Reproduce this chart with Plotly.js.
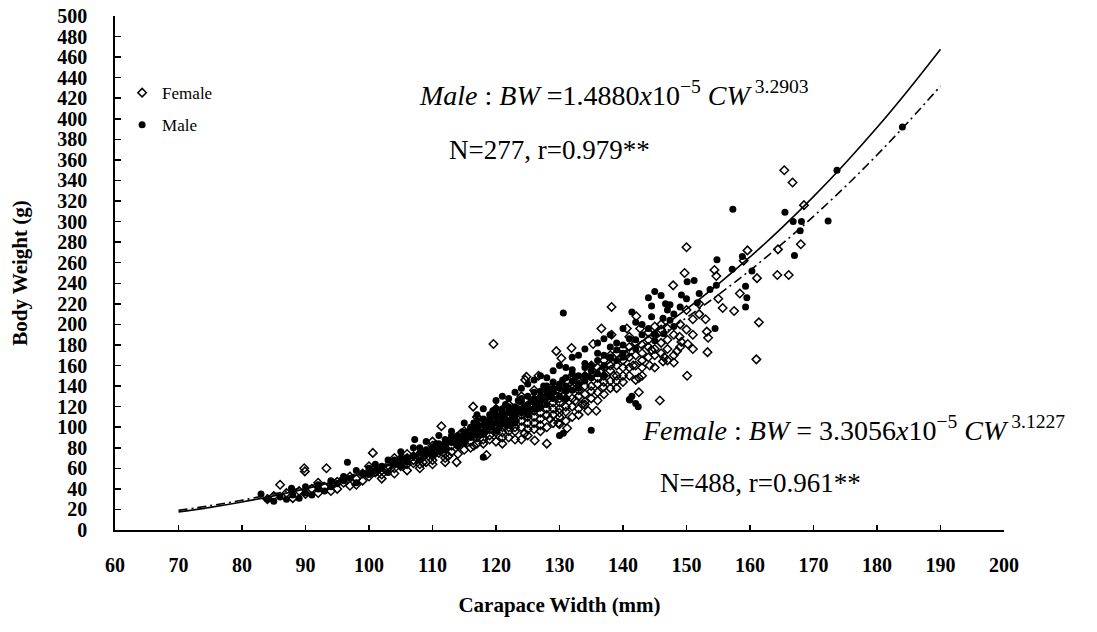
<!DOCTYPE html>
<html>
<head>
<meta charset="utf-8">
<script src="https://cdn.plot.ly/plotly-3.0.1.min.js"></script>
<style>html,body{margin:0;padding:0;background:#fff;}#chart{width:1097px;height:632px;}</style>
</head>
<body>
<div id="chart"></div>
<script>
// Female scatter (open diamonds)
const femaleCW = [84,85,86,87,88,89,89.8,89.9,90,91,92,93,93.3,94,95,96,97,98,99,100,100.6,101,102,102,103,104,105,105,106,107,107,108,108,109,110,110,111,111.4,112,112,113,113.8,114,114,115,115,116,116.4,117,117,118,118.5,118,119,119.6,120,120,120,121,121,122,122,123,123,124,124,124.8,124.6,125,125,126,126,126.1,126.7,127,127,128,128,128,129,129,129.5,129.8,130,130,130,130.3,131,131,131.2,131.9,132,132,133,133,133.6,134,134,135,135,135.3,135.8,136,136,136.6,136.9,137,137,138,138.2,138.2,138,139,139,140,140,140.6,141,141,141.6,142,142.1,142.5,142.7,143,143,144,144.2,145,145,145.8,146,146.3,147,147.9,148,148.5,148.9,149,149.2,149.7,150,150.1,150.2,151,152,153.2,153.3,153.4,154.4,154.7,155,155.7,157.5,158.4,159,159.6,161.1,161,161.4,164.3,164.4,165.4,166.1,166.7,168,168.5,
104,106,109,110,112,113,115,116,117,118,119,119,120,121,121,122,122,123,123,124,124,125,126,127,127,128,129,130,130,131,132,132,133,134,135,136,137,138,139,140,141,142,143,144,145,146,147,
95,97,99,101,103,104,106,107,108,109,110,111,112,113,114,115,116,117,118,119,120,121,122,123,124,125,126,127,128,129,130,131,132,133,134,135,136,137,138,139,140,141,142,143,144,145,146,147,148,149,150,151,152,
108.5,110.5,112.5,114.5,116.5,118.5,120.5,122.5,124.5,126.5,128.5,130.5,132.5,134.5,136.5,138.5,140.5,142.5,144.5,146.5,
92,94,96,98,100,102,104,106,108,110,112,114,116,117,118,120,121,122,123,124,125,126,127,128,129,130,131,132,133,134,135,136,137,138,139,140,141,142,143,144,145,146,147,148,150,151,153];
const femaleBW = [30,33,44,36,31,38,60,57,35,40,36,42,60,44,40,46,43,50,48,52,75,56,50,58,60,55,62,68,58,65,72,60,70,66,72,64,75,101,70,80,76,66,82,90,78,86,92,120,84,96,88,73,100,92,181,98,86,108,95,104,90,112,100,96,106,88,149,146,110,98,104,116,87,150,108,120,84,112,126,118,104,174,104,103,124,135,167,128,115,99,177,138,120,130,145,122,140,125,150,135,181,116,158,142,196,139,150,165,155,217,190,145,160,172,165,150,196,178,158,160,170,208,134,196,180,165,185,160,176,190,126,195,164,185,238,163,174,188,200,183,250,275,150,181,205,210,193,173,187,253,247,225,216,213,230,262,272,245,166,202,248,273,350,248,338,278,316,
60,70,74,68,74,82,92,86,90,94,98,88,102,100,90,100,108,106,114,100,112,104,110,114,102,118,112,114,128,120,128,110,136,132,140,148,144,160,150,158,168,160,172,178,170,182,176,
47,52,55,57,63,64,64,68,74,76,82,80,84,88,86,96,94,100,105,104,95,112,96,118,120,114,98,126,130,124,110,136,142,118,150,128,134,158,138,145,176,150,182,158,168,198,172,196,190,178,214,190,220,
66,76,72,94,82,98,110,104,94,122,108,140,126,116,155,150,170,148,175,168,
46,38,50,44,62,54,70,74,64,86,66,74,80,110,84,118,84,122,88,130,92,136,96,100,140,118,106,150,112,122,160,126,132,170,138,144,188,146,150,192,158,200,165,170,195,176,205];

// Male scatter (filled circles)
const maleCW = [83,84,85,86,87,87.8,88,89,90,91,92,93,94,95,96,96.6,97,98,99,100,100,101,102,103,104,105,105,106,107,107.2,108,108,109,110,110,111,112,112,113,114,114,115,115,116,116,117,117,118,118,118,119,119,120,120,120,121,121,122,122,123,123,124,124,125,125,126,126,127,127,128,128,129,129,130,130,130.6,130.6,131,131,132,132,133,134,134,135,135,136,136,137,138,139,140,141,141.4,141.1,142,142.4,141.4,142,143,144.5,144.5,145,146.3,146.4,146.7,147.4,147.4,148,149,149.2,150.1,151.2,151.7,153.7,154.5,154.7,154.8,157.2,157.3,158.8,159.3,159.5,159.3,160.3,165.5,166.8,167,167.9,168.1,172.3,173.7,184,
111,113,115,116,117,119,120,121,122,123,124,125,126,127,128,129,130,131,132,133,134,135,137,138,139,140,
100,102,104,106,108,109,110,111,112,113,114,115,116,117,118,119,120,121,122,123,124,125,126,127,128,129,130,131,132,133,134,135,136,137,138,139,140,141,142,143,144,145,147,148,150,152,
110.5,113.5,116.5,118.5,119.5,120.5,121.5,122.5,123.5,124.5,125.5,126.5,127.5,128.5,130.5,132.5,
90,92,94,96,98,101,103,105,107,109,111,113,115,117,118,120,121,122,123,124,125,126,127,128,129,130,131,132,133,134,136,137,138,140,142,144,145,146];
const maleBW = [35,30,28,32,30,40.5,34,31,36,34,40,38,42,45,48,66,50,46,55,54,60,58,62,56,64,70,62,66,72,88,75,68,78,80,72,84,78,88,85,92,82,95,88,100,90,98,106,70.7,102,95,108,100,104,112,96,110,118,106,115,120,110,125,114,122,130,118,128,135,125,132,140,138,128,92,142,94,211,148,135,145,152,150,158,145,97,160,165,152,170,168,175,180,127,130,126.5,123,120,212,185,190,218,207.5,191,206,191,220,204,219,210,217,228.6,241.5,242.6,221,234,196,238,263,253.6,312,266,237,226,217,252,309,300,267,291,300,300.6,350,392,
76,90,84,96,92,112,118,104,120,104,118,112,124,130,122,134,130,140,136,142,150,155,160,178,165,172,
58,60,68,70,80,74,76,80,84,92,88,92,98,102,108,104,110,114,102,116,128,116,134,120,136,144,138,128,156,138,162,148,172,150,168,182,168,186,176,200,196,184,214,198,225,230,
84,86,104,100,116,100,122,112,126,120,126,118,140,130,146,148,
42,44,48,52,58,64,68,76,80,86,92,96,104,112,118,126,130,128,134,138,142,146,150,148,155,160,158,168,170,176,182,186,190,196,202,226,232,228];

// Fitted curves, read at regular CW steps
const curveCW = [70,75,80,85,90,95,100,105,110,115,120,125,130,135,140,145,150,155,160,165,170,175,180,185,190];
const maleFitBW = [17.5,22.0,27.2,33.2,40.0,47.9,56.7,66.6,77.6,89.8,103.2,118.1,134.4,152.1,171.3,192.2,214.8,239.2,265.6,293.9,324.3,356.8,391.5,428.6,467.7];
const femaleFitBW = [19.1,23.7,29.0,35.1,41.9,49.6,58.2,67.8,78.4,90.1,102.9,116.9,132.1,148.7,166.4,185.8,206.6,228.8,252.6,278.0,305.1,334.0,364.8,397.5,431.9];

const xTicks = [60,70,80,90,100,110,120,130,140,150,160,170,180,190,200];
const yTicks = [0,20,40,60,80,100,120,140,160,180,200,220,240,260,280,300,320,340,360,380,400,420,440,460,480,500];

const serif = 'Liberation Serif, Times New Roman, serif';

const traces = [
  {x: femaleCW, y: femaleBW, type: 'scatter', mode: 'markers', name: 'Female',
   legendgroup: 'f',
   marker: {symbol: 'diamond-open', size: 6.5, color: '#000', line: {width: 1.5, color: '#000'}}},
  {x: maleCW, y: maleBW, type: 'scatter', mode: 'markers', name: 'Male',
   legendgroup: 'm',
   marker: {symbol: 'circle', size: 7, color: '#000'}},
  {x: curveCW, y: maleFitBW, type: 'scatter', mode: 'lines', showlegend: false,
   line: {color: '#000', width: 1.6, shape: 'spline'}},
  {x: curveCW, y: femaleFitBW, type: 'scatter', mode: 'lines', showlegend: false,
   line: {color: '#000', width: 1.6, shape: 'spline', dash: '9px,4px,2px,4px'}}
];

const layout = {
  width: 1097, height: 632,
  margin: {l: 115, r: 93, t: 16, b: 102},
  paper_bgcolor: '#fff', plot_bgcolor: '#fff',
  showlegend: true,
  legend: {x: 0.008, y: 0.885, xanchor: 'left', yanchor: 'top',
           font: {family: serif, size: 17, color: '#000'},
           bgcolor: 'rgba(0,0,0,0)', traceorder: 'grouped', tracegroupgap: 7},
  xaxis: {range: [60, 200], tickvals: xTicks, ticktext: xTicks.map(String),
          showgrid: false, zeroline: false, showline: true, linecolor: '#000', linewidth: 1.8,
          ticks: 'inside', ticklen: 5, tickwidth: 1.5, tickcolor: '#000',
          ticklabelstandoff: 16,
          tickfont: {family: serif, size: 20, color: '#000', weight: 'bold'},
          title: {text: '<b>Carapace Width (mm)</b>', font: {family: serif, size: 21, color: '#000'}, standoff: 22}},
  yaxis: {range: [0, 500], tickvals: yTicks, ticktext: yTicks.map(String),
          showgrid: false, zeroline: false, showline: true, linecolor: '#000', linewidth: 1.8,
          ticks: 'inside', ticklen: 6, tickwidth: 1.5, tickcolor: '#000',
          ticklabelstandoff: 22,
          tickfont: {family: serif, size: 20, color: '#000', weight: 'bold'},
          title: {text: '<b>Body Weight (g)</b>', font: {family: serif, size: 21, color: '#000'}, standoff: 24}},
  annotations: [
    {xref: 'paper', yref: 'paper', x: (417-115)/889, y: 1-(93-16)/514, xanchor: 'left', yanchor: 'middle', showarrow: false,
     text: '<i>Male</i> : <i>BW</i> =1.4880<i>x</i>10<sup>−5</sup> <i>CW</i><sup> 3.2903</sup>',
     font: {family: serif, size: 28, color: '#000'}},
    {xref: 'paper', yref: 'paper', x: (447-115)/889, y: 1-(150-16)/514, xanchor: 'left', yanchor: 'middle', showarrow: false,
     text: 'N=277, r=0.979**', font: {family: serif, size: 27, color: '#000'}},
    {xref: 'paper', yref: 'paper', x: (640-115)/889, y: 1-(428-16)/514, xanchor: 'left', yanchor: 'middle', showarrow: false,
     text: '<i>Female</i> : <i>BW</i> = 3.3056<i>x</i>10<sup>−5</sup> <i>CW</i><sup> 3.1227</sup>',
     font: {family: serif, size: 28, color: '#000'}},
    {xref: 'paper', yref: 'paper', x: (658-115)/889, y: 1-(483-16)/514, xanchor: 'left', yanchor: 'middle', showarrow: false,
     text: 'N=488, r=0.961**', font: {family: serif, size: 27, color: '#000'}}
  ]
};

Plotly.newPlot('chart', traces, layout, {displayModeBar: false, staticPlot: true});
</script>
</body>
</html>
